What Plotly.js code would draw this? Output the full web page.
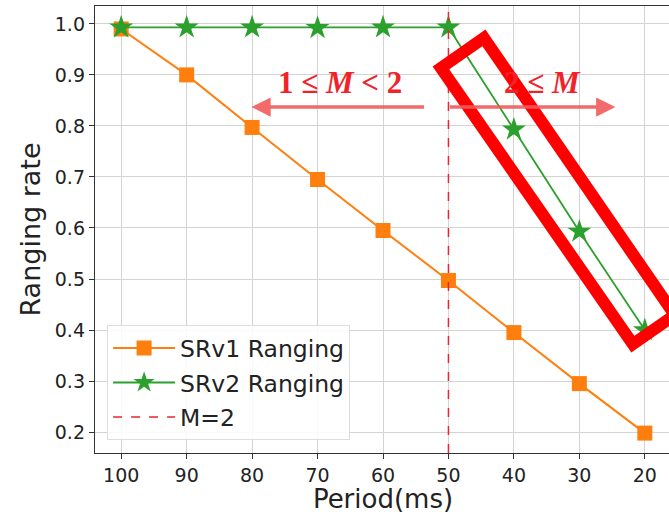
<!DOCTYPE html>
<html><head><meta charset="utf-8">
<script src="https://cdn.plot.ly/plotly-3.0.1.min.js"></script>
<style>html,body{margin:0;padding:0;overflow:hidden;background:#fff}#c{width:680px;height:514px}</style>
</head><body><div id="c"></div>
<script>
const periods = [100, 90, 80, 70, 60, 50, 40, 30, 20];
const srv1 = [0.99, 0.90, 0.797, 0.695, 0.595, 0.497, 0.395, 0.295, 0.198];
const srv2 = [0.993, 0.993, 0.993, 0.992, 0.993, 0.993, 0.793, 0.593, 0.400];
const tickVals = [100, 90, 80, 70, 60, 50, 40, 30, 20];
const yTicks = [0.2, 0.3, 0.4, 0.5, 0.6, 0.7, 0.8, 0.9, 1.0];
const threshold = 50;
const seriesNames = ['SRv1 Ranging', 'SRv2 Ranging', 'M=2'];
const leftLabel = '1 ≤ <i>M</i> < 2';
const rightLabel = '2 ≤ <i>M</i>';

const font = 'DejaVu Sans, sans-serif';
const traces = [
  {x: periods, y: srv1, name: seriesNames[0], mode: 'lines+markers', legendgroup: 'a',
   line: {color: '#ff7f0e', width: 2}, marker: {symbol: 'square', size: 15, color: '#ff7f0e'}},
  {x: periods, y: srv2, name: seriesNames[1], mode: 'lines+markers', legendgroup: 'b',
   line: {color: '#2ca02c', width: 1.8}, marker: {symbol: 'star', size: 18, color: '#2ca02c'}},
  {x: [threshold, threshold], y: [0.159, 1.035], name: seriesNames[2], mode: 'lines', legendgroup: 'c',
   line: {color: '#e8262b', width: 1.5, dash: 'dash'}}
];
const boxPath = 'M 44.58,0.9725 L 51.15,0.9137 L 21.83,0.3725 L 15.42,0.4294 Z';
const layout = {
  width: 680, height: 514,
  margin: {l: 95, r: 9, t: 6, b: 61},
  paper_bgcolor: '#fff', plot_bgcolor: '#fff',
  font: {family: font, color: '#222'},
  xaxis: {range: [104, 16], tickvals: tickVals, ticks: 'outside', ticklen: 5, tickcolor: '#333',
    showline: true, linecolor: '#333', linewidth: 1.2, mirror: true, zeroline: false, automargin: false,
    gridcolor: '#d3d3d3', gridwidth: 1, tickfont: {size: 19, family: font, color: '#222'},
    title: {text: 'Period(ms)', font: {size: 26, family: font, color: '#222'}, standoff: 5}},
  yaxis: {range: [0.159, 1.035], tickvals: yTicks, tickformat: '.1f', ticks: 'outside', ticklen: 5, tickcolor: '#333',
    showline: true, linecolor: '#333', linewidth: 1.2, mirror: true, zeroline: false, automargin: false,
    gridcolor: '#d3d3d3', gridwidth: 1, tickfont: {size: 19, family: font, color: '#222'},
    title: {text: 'Ranging rate', font: {size: 27, family: font, color: '#222'}, standoff: 6}},
  legend: {x: 0.021, y: 0.286, xanchor: 'left', yanchor: 'top', bgcolor: 'rgba(255,255,255,0.85)',
    bordercolor: '#ddd', borderwidth: 1, font: {size: 23.5, family: font, color: '#222'},
    itemwidth: 62, traceorder: 'grouped', tracegroupgap: 1},
  shapes: [
    {type: 'path', xref: 'x', yref: 'y', path: boxPath, line: {color: '#ff0000', width: 12}, fillcolor: 'rgba(0,0,0,0)', layer: 'above'}
  ],
  annotations: [
    {x: 66.6, y: 0.886, xref: 'x', yref: 'y', text: '<b>' + leftLabel + '</b>', showarrow: false,
     font: {family: 'Liberation Serif, serif', size: 31, color: 'rgb(240,35,40)'}},
    {x: 35.6, y: 0.886, xref: 'x', yref: 'y', text: '<b>' + rightLabel + '</b>', showarrow: false,
     font: {family: 'Liberation Serif, serif', size: 31, color: 'rgb(240,35,40)'}},
    {x: 80.1, y: 0.837, ax: 53.5, ay: 0.837, xref: 'x', yref: 'y', axref: 'x', ayref: 'y', text: '', showarrow: true,
     arrowhead: 2, arrowsize: 1.1, arrowwidth: 3.5, arrowcolor: 'rgba(242,90,90,0.9)'},
    {x: 24.5, y: 0.837, ax: 50, ay: 0.837, xref: 'x', yref: 'y', axref: 'x', ayref: 'y', text: '', showarrow: true,
     arrowhead: 2, arrowsize: 1.1, arrowwidth: 3.5, arrowcolor: 'rgba(242,90,90,0.9)'}
  ]
};
Plotly.newPlot('c', traces, layout, {displayModeBar: false, staticPlot: true});
</script></body></html>
